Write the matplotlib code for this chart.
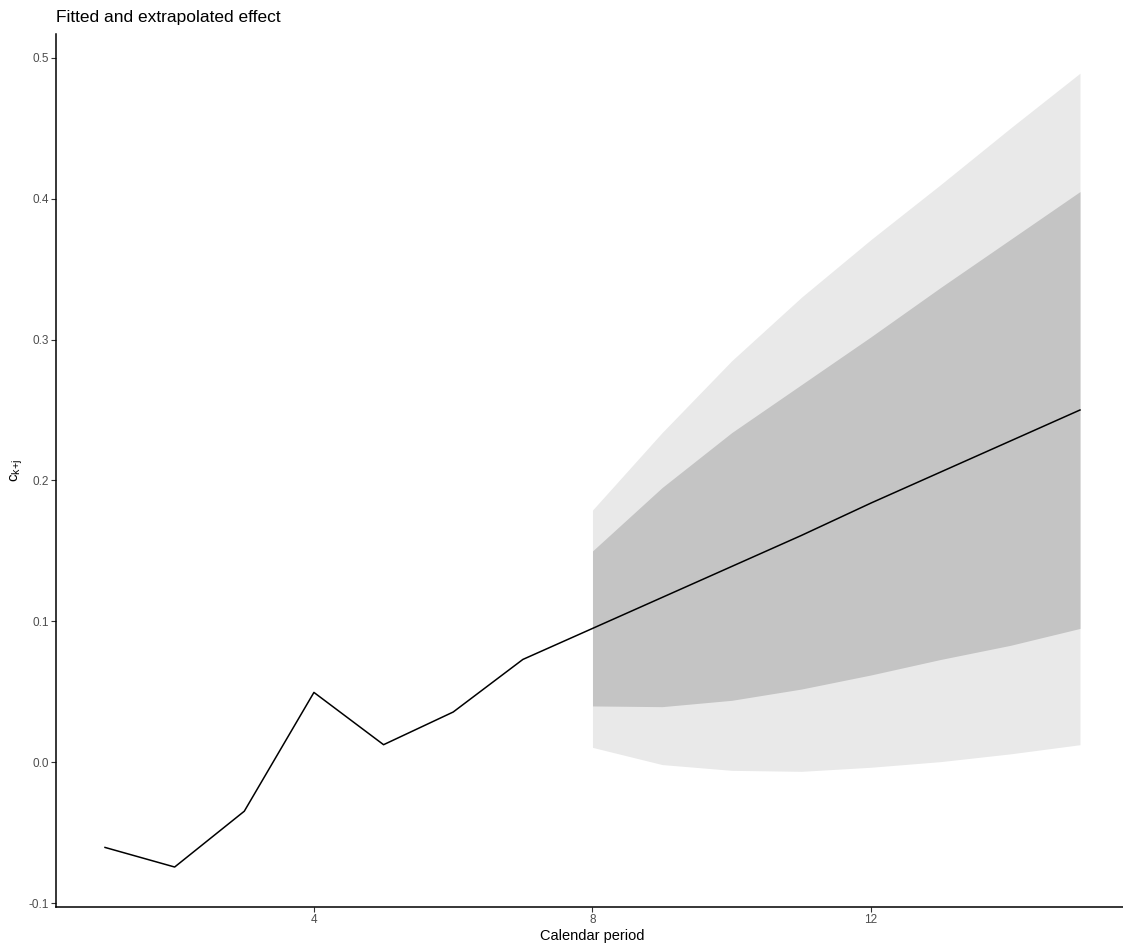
import matplotlib
matplotlib.use("Agg")
import matplotlib.pyplot as plt

plt.rcParams['font.family'] = ['Liberation Sans', 'DejaVu Sans']
plt.rcParams['mathtext.fontset'] = 'custom'
plt.rcParams['mathtext.rm'] = 'Liberation Sans'
plt.rcParams['mathtext.it'] = 'Liberation Sans'
plt.rcParams['mathtext.default'] = 'regular'

# Fitted / extrapolated calendar effect
period = [1, 2, 3, 4, 5, 6, 7, 8, 9, 10, 11, 12, 13, 14, 15]
effect = [-0.0604, -0.0743, -0.0347, 0.0496, 0.0125, 0.0357, 0.0730,
          0.095, 0.117, 0.139, 0.161, 0.184, 0.206, 0.228, 0.250]

# Prediction bands (extrapolated periods)
band_period = [8, 9, 10, 11, 12, 13, 14, 15]
outer_lo = [0.0106, -0.0016, -0.0057, -0.0064, -0.0035, 0.0005, 0.0060, 0.0125]
outer_hi = [0.179, 0.234, 0.285, 0.330, 0.371, 0.410, 0.450, 0.489]
inner_lo = [0.040, 0.0395, 0.044, 0.052, 0.062, 0.073, 0.083, 0.095]
inner_hi = [0.150, 0.195, 0.234, 0.268, 0.302, 0.337, 0.371, 0.405]

x_ticks = [4, 8, 12]
y_ticks = [-0.1, 0.0, 0.1, 0.2, 0.3, 0.4, 0.5]
y_tick_labels = ['-0.1', '0.0', '0.1', '0.2', '0.3', '0.4', '0.5']

fig = plt.figure(figsize=(11.23, 9.44), dpi=100)
ax = fig.add_axes([0.0501, 0.0395, 0.955, 0.925])

ax.fill_between(band_period, outer_lo, outer_hi, color='#E9E9E9', linewidth=0)
ax.fill_between(band_period, inner_lo, inner_hi, color='#C4C4C4', linewidth=0)
ax.plot(period, effect, color='black', linewidth=1.1)

xmin, xmax = min(period), max(period)
xr = xmax - xmin
ax.set_xlim(xmin - 0.05 * xr, xmax + 0.05 * xr)
ymin = min(min(effect), min(outer_lo))
ymax = max(max(effect), max(outer_hi))
yr = ymax - ymin
ax.set_ylim(ymin - 0.05 * yr, ymax + 0.05 * yr)

ax.set_xticks(x_ticks)
ax.set_xticklabels([str(t) for t in x_ticks])
ax.set_yticks(y_ticks)
ax.set_yticklabels(y_tick_labels)

for s in ['top', 'right']:
    ax.spines[s].set_visible(False)
for s in ['left', 'bottom']:
    ax.spines[s].set_linewidth(1.1)
    ax.spines[s].set_color('black')

ax.tick_params(axis='both', length=3.5, width=0.8, color='#333333',
               labelcolor='#4D4D4D', labelsize=8.5, pad=2)

ax.set_xlabel('Calendar period', fontsize=10.5, labelpad=2)
ax.set_ylabel(r'$c_{k{+}j}$', fontsize=11, labelpad=2)
ax.set_title('Fitted and extrapolated effect', loc='left', fontsize=12.5, pad=8)

fig.savefig('out.png', dpi=100)
